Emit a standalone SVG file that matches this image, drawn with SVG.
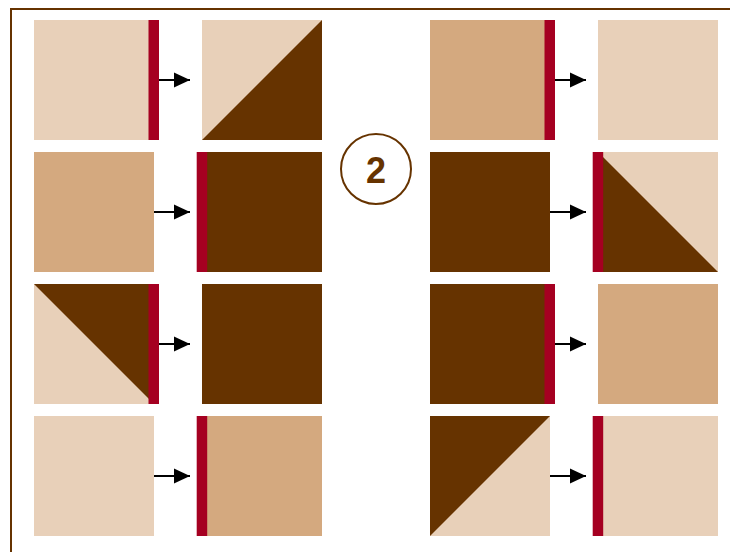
<svg xmlns="http://www.w3.org/2000/svg" width="730" height="552" viewBox="0 0 730 552">
<style>
.l{fill:#E8D0B9}.t{fill:#D4A97F}.d{fill:#663300}.r{fill:#A50021}
.a{stroke:#000;stroke-width:2;fill:none}
</style>
<defs>
<marker id="ah" markerWidth="8" markerHeight="7.6" refX="8" refY="3.8" orient="auto" markerUnits="strokeWidth"><path d="M0,0 L8,3.8 L0,7.6 Z" fill="#000"/></marker>
</defs>
<rect width="730" height="552" fill="#fff"/>
<path d="M11,552 V9 H730" stroke="#663300" stroke-width="2" fill="none"/>
<g id="r1c1a"><rect class="l" x="34" y="20" width="120" height="120"/><rect class="r" x="148.5" y="20" width="10.5" height="120"/></g>
<g id="r1c1b"><rect class="l" x="202" y="20" width="120" height="120"/><polygon class="d" points="322,20 322,140 202,140"/></g>
<g id="r1c2a"><rect class="t" x="430" y="20" width="120" height="120"/><rect class="r" x="544.5" y="20" width="10.5" height="120"/></g>
<g id="r1c2b"><rect class="l" x="598" y="20" width="120" height="120"/></g>
<g id="r2c1a"><rect class="t" x="34" y="152" width="120" height="120"/></g>
<g id="r2c1b"><rect class="d" x="202" y="152" width="120" height="120"/><rect class="r" x="196.7" y="152" width="10.5" height="120"/></g>
<g id="r2c2a"><rect class="d" x="430" y="152" width="120" height="120"/></g>
<g id="r2c2b"><rect class="l" x="598" y="152" width="120" height="120"/><polygon class="d" points="598,152 718,272 598,272"/><rect class="r" x="592.7" y="152" width="10.5" height="120"/></g>
<g id="r3c1a"><rect class="l" x="34" y="284" width="120" height="120"/><polygon class="d" points="34,284 154,284 154,404"/><rect class="r" x="148.5" y="284" width="10.5" height="120"/></g>
<g id="r3c1b"><rect class="d" x="202" y="284" width="120" height="120"/></g>
<g id="r3c2a"><rect class="d" x="430" y="284" width="120" height="120"/><rect class="r" x="544.5" y="284" width="10.5" height="120"/></g>
<g id="r3c2b"><rect class="t" x="598" y="284" width="120" height="120"/></g>
<g id="r4c1a"><rect class="l" x="34" y="416" width="120" height="120"/></g>
<g id="r4c1b"><rect class="t" x="202" y="416" width="120" height="120"/><rect class="r" x="196.7" y="416" width="10.5" height="120"/></g>
<g id="r4c2a"><rect class="l" x="430" y="416" width="120" height="120"/><polygon class="d" points="430,416 550,416 430,536"/></g>
<g id="r4c2b"><rect class="l" x="598" y="416" width="120" height="120"/><rect class="r" x="592.7" y="416" width="10.5" height="120"/></g>
<g id="badge"><circle cx="376" cy="169" r="35" fill="#fff" stroke="#663300" stroke-width="2"/><text x="376" y="182.5" text-anchor="middle" font-family="Liberation Sans, Arial, sans-serif" font-weight="bold" font-size="36" fill="#663300">2</text></g>
<g id="connectors">
<line class="a" x1="159" y1="80" x2="190" y2="80" marker-end="url(#ah)"/>
<line class="a" x1="555" y1="80" x2="586" y2="80" marker-end="url(#ah)"/>
<line class="a" x1="154" y1="212" x2="190" y2="212" marker-end="url(#ah)"/>
<line class="a" x1="550" y1="212" x2="586" y2="212" marker-end="url(#ah)"/>
<line class="a" x1="159" y1="344" x2="190" y2="344" marker-end="url(#ah)"/>
<line class="a" x1="555" y1="344" x2="586" y2="344" marker-end="url(#ah)"/>
<line class="a" x1="154" y1="476" x2="190" y2="476" marker-end="url(#ah)"/>
<line class="a" x1="550" y1="476" x2="586" y2="476" marker-end="url(#ah)"/>
</g>
</svg>
